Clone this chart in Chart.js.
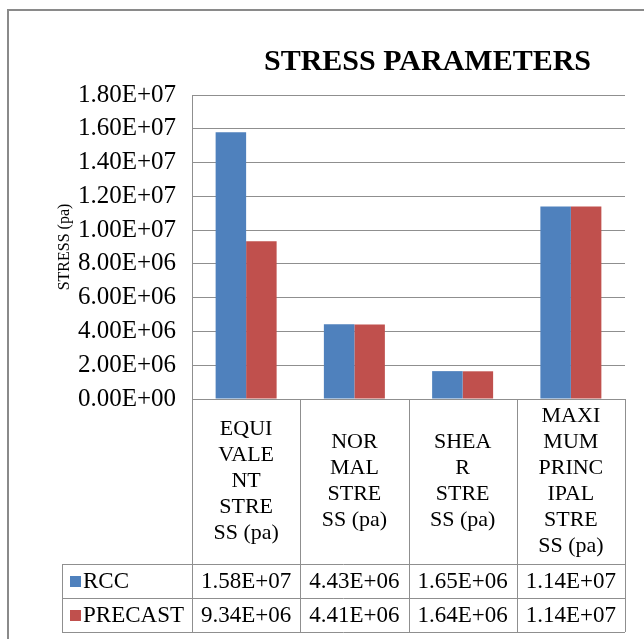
<!DOCTYPE html>
<html>
<head>
<meta charset="utf-8">
<script src="https://cdn.jsdelivr.net/npm/chart.js@4.4.1/dist/chart.umd.min.js"></script>
<style>
  body { margin: 0; background: #fff; }
  #wrap { width: 644px; height: 639px; }
</style>
</head>
<body>
<div id="wrap"><canvas id="stressChart" width="644" height="639"></canvas></div>
<script>
// --- Data ---
const categories = [
    ['EQUI', 'VALE', 'NT', 'STRE', 'SS (pa)'],
    ['NOR', 'MAL', 'STRE', 'SS (pa)'],
    ['SHEA', 'R', 'STRE', 'SS (pa)'],
    ['MAXI', 'MUM', 'PRINC', 'IPAL', 'STRE', 'SS (pa)']
];
const seriesNames = ['RCC', 'PRECAST'];
const rccValues = [1.58e7, 4.43e6, 1.65e6, 1.14e7];
const precastValues = [9.34e6, 4.41e6, 1.64e6, 1.14e7];
const seriesColors = ['#4F81BD', '#C0504D'];

const chartTitle = 'STRESS PARAMETERS';
const yTitle = 'STRESS (pa)';

const SERIF = "'Liberation Serif', 'DejaVu Serif', serif";
const LINE = '#8f8f8f';

// Excel style scientific format, e.g. 1.58E+07
function sci(v) {
    const parts = v.toExponential(2).split('e');
    const n = parseInt(parts[1]);
    return parts[0] + 'E' + (n < 0 ? '-' : '+') + String(Math.abs(n)).padStart(2, '0');
}

// --- Data table, title and frame drawn under the plot ---
const tablePlugin = {
    id: 'dataTable',
    afterDraw(chart) {
        const ctx = chart.ctx;
        const area = chart.chartArea;
        const xs = chart.scales.x;
        const colW = (area.right - area.left) / categories.length;
        const catBottom = area.bottom + 165;
        const rowH = 34;
        const legendLeft = 62;

        ctx.save();

        // outer frame
        ctx.strokeStyle = '#8a8a8a';
        ctx.lineWidth = 2;
        ctx.strokeRect(8, 10, 700, 700);

        // title
        ctx.fillStyle = '#000';
        ctx.font = 'bold 30px ' + SERIF;
        ctx.textAlign = 'center';
        ctx.textBaseline = 'middle';
        ctx.fillText(chartTitle, (area.left + area.right) / 2 + 19, 62);

        // table grid
        ctx.strokeStyle = LINE;
        ctx.lineWidth = 1;
        ctx.beginPath();
        for (let i = 0; i <= categories.length; i++) {
            const x = Math.round(area.left + i * colW) + 0.5;
            ctx.moveTo(x, area.bottom);
            ctx.lineTo(x, catBottom + rowH * 2);
        }
        ctx.moveTo(legendLeft + 0.5, catBottom);
        ctx.lineTo(legendLeft + 0.5, catBottom + rowH * 2);
        for (let r = 0; r <= 2; r++) {
            const y = catBottom + r * rowH + 0.5;
            ctx.moveTo(legendLeft, y);
            ctx.lineTo(area.right, y);
        }
        ctx.stroke();

        // category labels
        ctx.fillStyle = '#000';
        ctx.font = '22px ' + SERIF;
        const lh = 26;
        categories.forEach((lines, i) => {
            const cx = xs.getPixelForValue(i);
            const cy = (area.bottom + catBottom) / 2;
            const y0 = cy - (lines.length - 1) * lh / 2;
            lines.forEach((t, k) => ctx.fillText(t, cx, y0 + k * lh));
        });

        // value rows with legend keys
        ctx.font = '23px ' + SERIF;
        [rccValues, precastValues].forEach((vals, r) => {
            const cy = catBottom + r * rowH + rowH / 2 + 1;
            ctx.fillStyle = seriesColors[r];
            ctx.fillRect(legendLeft + 8, cy - 6, 11, 11);
            ctx.fillStyle = '#000';
            ctx.textAlign = 'left';
            ctx.fillText(seriesNames[r], legendLeft + 21, cy);
            ctx.textAlign = 'center';
            vals.forEach((v, i) => ctx.fillText(sci(v), xs.getPixelForValue(i), cy));
        });

        ctx.restore();
    }
};

// --- Chart ---
new Chart(document.getElementById('stressChart'), {
    type: 'bar',
    data: {
        labels: categories.map(c => c.join(' ')),
        datasets: [
            { label: seriesNames[0], data: rccValues, backgroundColor: seriesColors[0] },
            { label: seriesNames[1], data: precastValues, backgroundColor: seriesColors[1] }
        ]
    },
    options: {
        responsive: false,
        animation: false,
        layout: { padding: { left: 51, right: 19, top: 95, bottom: 0 } },
        datasets: { bar: { categoryPercentage: 0.5635, barPercentage: 1 } },
        plugins: {
            legend: { display: false },
            tooltip: { enabled: false },
            title: { display: false }
        },
        scales: {
            x: {
                ticks: { display: false },
                grid: { display: false },
                border: { display: false },
                afterFit: (s) => { s.height = 240; }
            },
            y: {
                min: 0,
                max: 1.8e7,
                ticks: {
                    stepSize: 2e6,
                    padding: 16,
                    color: '#000',
                    font: { family: SERIF, size: 25 },
                    callback: (v) => sci(v)
                },
                grid: { color: LINE, drawTicks: false },
                border: { display: true, color: LINE },
                title: {
                    display: true,
                    text: yTitle,
                    color: '#000',
                    font: { family: SERIF, size: 16 }
                },
                afterFit: (s) => { s.width = 141; }
            }
        }
    },
    plugins: [tablePlugin]
});
</script>
</body>
</html>
